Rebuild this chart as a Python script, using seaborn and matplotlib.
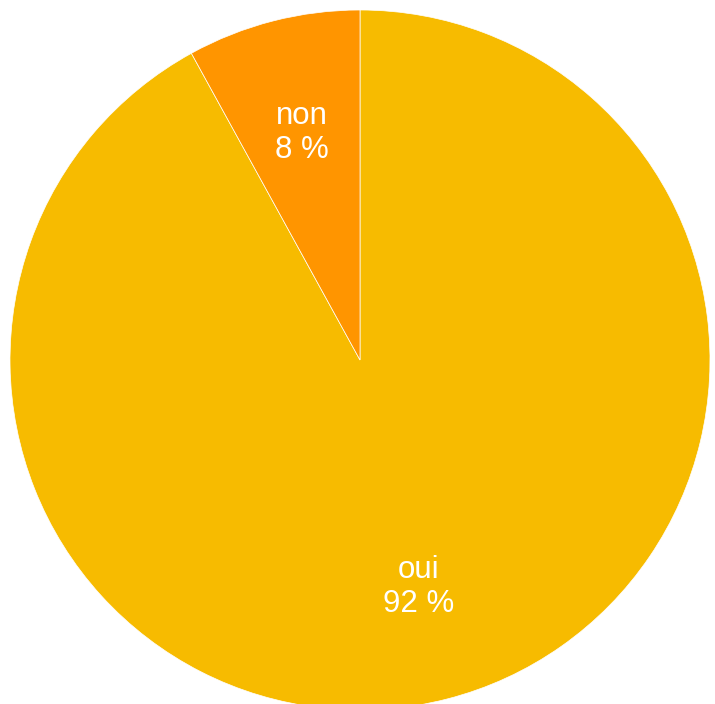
import matplotlib
matplotlib.use("Agg")
import matplotlib.pyplot as plt
import seaborn as sns

# data
answers = ["oui", "non"]
shares = [92, 8]
colors = ["#F7BB00", "#FF9500"]

sns.set_style("white")
plt.rcParams["font.family"] = ["Liberation Sans", "DejaVu Sans"]

fig = plt.figure(figsize=(7.15, 7.04), dpi=100)
ax = fig.add_axes([0, 0, 1, 1])

label_iter = iter(answers)


def fmt(pct):
    return f"{next(label_iter)}\n{pct:.0f} %"


wedges, texts, autotexts = ax.pie(
    shares,
    colors=colors,
    startangle=90,
    counterclock=False,
    radius=350,
    center=(360, 344),
    autopct=fmt,
    pctdistance=0.67,
    wedgeprops={"edgecolor": "white", "linewidth": 0.5},
    textprops={"color": "white", "fontsize": 22.5},
)
for t in autotexts:
    t.set_linespacing(1.2)

ax.set_xlim(0, 715)
ax.set_ylim(0, 704)
ax.set_aspect("equal")
ax.axis("off")

fig.savefig("out.png", dpi=100)
plt.close(fig)
